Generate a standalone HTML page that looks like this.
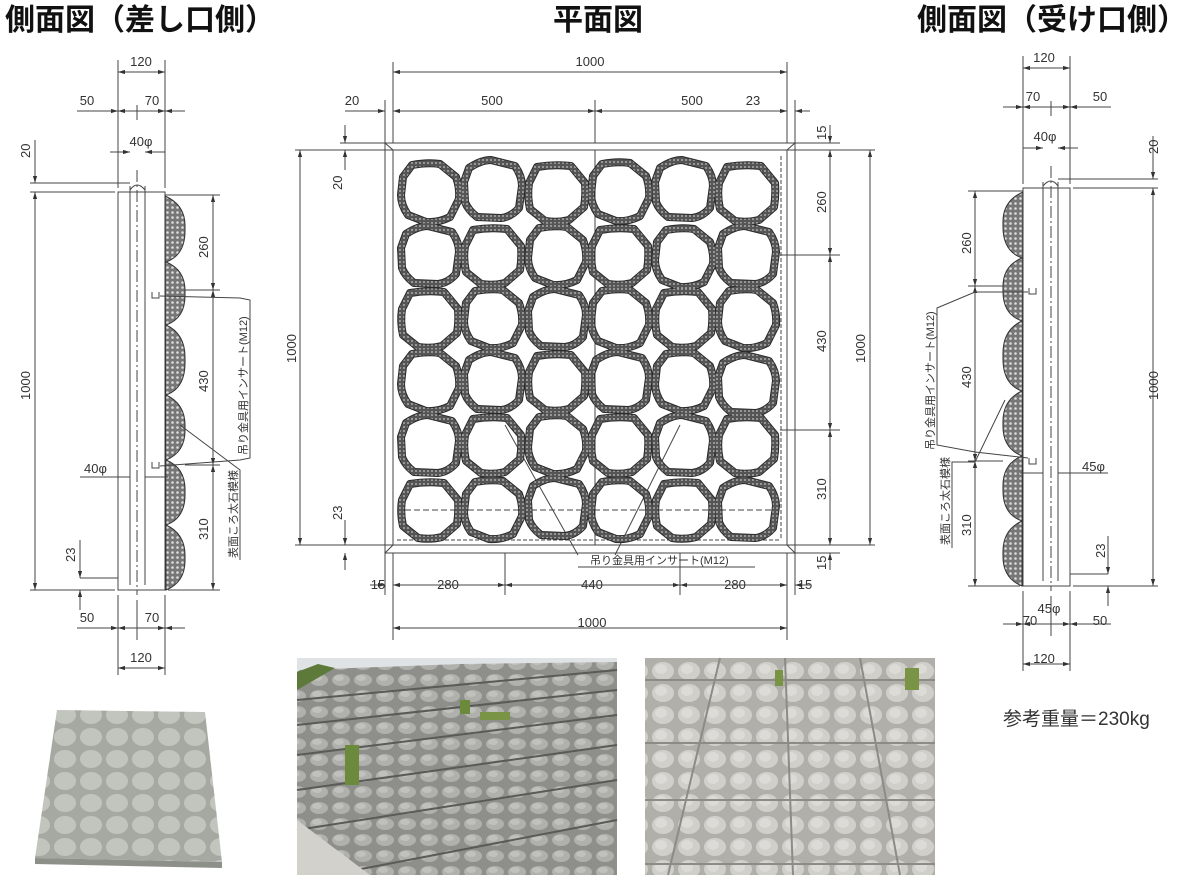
<!DOCTYPE html>
<html><head><meta charset="utf-8"><style>
html,body{margin:0;padding:0;background:#fff;width:1200px;height:875px;overflow:hidden}
svg{display:block}
text{font-family:"Liberation Sans","Noto Sans CJK JP",sans-serif;fill:#333}
.t{font-size:30px;font-weight:bold;fill:#111;font-family:"Liberation Sans","Noto Sans CJK JP",sans-serif}
.d{font-size:13px}
.s{font-size:11px}
</style></head><body>
<svg width="1200" height="875" viewBox="0 0 1200 875" xmlns="http://www.w3.org/2000/svg">
<defs>
<marker id="a" viewBox="0 0 10 10" refX="10" refY="5" markerWidth="7" markerHeight="7" orient="auto-start-reverse"><path d="M0,2 L10,5 L0,8z" fill="#333"/></marker>
<pattern id="peb" width="5" height="5" patternUnits="userSpaceOnUse"><rect width="5" height="5" fill="#777"/><circle cx="2.5" cy="2.5" r="1.3" fill="#ddd"/></pattern>
<pattern id="peb2" width="4" height="4" patternUnits="userSpaceOnUse"><rect width="4" height="4" fill="#555"/><circle cx="2" cy="2" r="1" fill="#aaa"/></pattern>
<path id="s1" d="M-18,-28 Q-2,-31 10,-29 L26,-16 Q30,-5 29,6 L20,24 Q8,30 -4,29 L-22,22 Q-29,12 -29,2 L-27,-16Z"/>
<path id="s2" d="M-24,-22 Q-12,-30 -2,-30 L22,-24 Q29,-14 29,-4 L26,18 Q18,27 8,28 L-16,27 Q-25,20 -28,12 L-29,-8Z"/>
<path id="s3" d="M-20,-26 Q-3,-29 14,-27 L28,-10 Q29,2 27,14 L12,27 Q0,30 -12,28 L-27,16 Q-30,3 -28,-10Z"/>
<pattern id="cob" width="22" height="16" patternUnits="userSpaceOnUse"><rect width="22" height="16" fill="#8e8e8a"/><ellipse cx="11" cy="8" rx="9" ry="6" fill="#b0b0ac"/><ellipse cx="9" cy="6" rx="5" ry="3" fill="#c0c0bc"/></pattern>
<pattern id="cob2" width="26" height="22" patternUnits="userSpaceOnUse"><rect width="26" height="22" fill="#b0afaa"/><ellipse cx="13" cy="11" rx="11" ry="9" fill="#d0cfca"/><ellipse cx="11" cy="9" rx="6" ry="5" fill="#dcdbd7"/></pattern>
<pattern id="cob3" width="26" height="22" patternUnits="userSpaceOnUse"><rect width="26" height="22" fill="#a6a9a1"/><ellipse cx="13" cy="11" rx="11" ry="9" fill="#c2c5bd"/></pattern>
<g id="stones">
<use href="#s1" x="430" y="193"/><use href="#s2" x="493" y="190"/><use href="#s3" x="557" y="193"/><use href="#s1" x="620" y="192"/><use href="#s2" x="684" y="190"/><use href="#s3" x="747" y="193"/>
<use href="#s2" x="430" y="256"/><use href="#s3" x="493" y="256"/><use href="#s1" x="557" y="256"/><use href="#s3" x="620" y="256"/><use href="#s1" x="684" y="258"/><use href="#s2" x="747" y="256"/>
<use href="#s3" x="430" y="319"/><use href="#s1" x="493" y="319"/><use href="#s2" x="557" y="319"/><use href="#s1" x="620" y="319"/><use href="#s3" x="684" y="319"/><use href="#s1" x="747" y="319"/>
<use href="#s1" x="430" y="382"/><use href="#s2" x="493" y="382"/><use href="#s3" x="557" y="382"/><use href="#s2" x="620" y="382"/><use href="#s1" x="684" y="382"/><use href="#s2" x="747" y="385"/>
<use href="#s2" x="430" y="445"/><use href="#s3" x="493" y="445"/><use href="#s1" x="557" y="445"/><use href="#s3" x="620" y="445"/><use href="#s2" x="684" y="445"/><use href="#s3" x="747" y="445"/>
<use href="#s3" x="430" y="510"/><use href="#s1" x="493" y="510"/><use href="#s2" x="557" y="508"/><use href="#s1" x="620" y="510"/><use href="#s3" x="684" y="510"/><use href="#s2" x="747" y="510"/>
</g>
</defs>

<text class="t" x="5" y="30">側面図（差し口側）</text>
<text class="t" x="553" y="30">平面図</text>
<text class="t" x="917" y="30">側面図（受け口側）</text>

<g id="sv" stroke="#444" stroke-width="1" fill="none">
<rect x="118" y="192" width="47" height="398"/>
<line x1="130" y1="186" x2="130" y2="585"/><line x1="145" y1="186" x2="145" y2="585"/>
<path d="M130,190 Q137,180 145,190"/>
<line x1="137" y1="170" x2="137" y2="595" stroke-dasharray="12,3,2,3"/>
<path d="M165,196 Q186,205 185,228 Q186,255 166,262 Q186,270 185,293 Q186,318 166,325 Q186,334 185,360 Q186,388 166,395 Q186,404 185,428 Q186,452 166,460 Q186,468 185,492 Q186,518 166,525 Q186,534 185,558 Q186,582 166,590Z" fill="url(#peb)" stroke="#333"/>
<path d="M152,292 v6 h7 v-6 M152,462 v6 h7 v-6"/>
<line x1="118" y1="60" x2="118" y2="188"/><line x1="165" y1="60" x2="165" y2="188"/>
<line x1="137" y1="105" x2="137" y2="120"/>
<line x1="118" y1="595" x2="118" y2="675"/><line x1="165" y1="595" x2="165" y2="675"/><line x1="137" y1="600" x2="137" y2="640"/>
<line x1="30" y1="183" x2="130" y2="183"/><line x1="30" y1="192" x2="115" y2="192"/><line x1="30" y1="590" x2="115" y2="590"/>
<line x1="165" y1="195" x2="220" y2="195"/><line x1="185" y1="290" x2="220" y2="290"/><line x1="185" y1="465" x2="220" y2="465"/><line x1="168" y1="590" x2="220" y2="590"/>
<line x1="80" y1="578" x2="118" y2="578"/>
<line x1="118" y1="72" x2="165" y2="72" marker-start="url(#a)" marker-end="url(#a)"/>
<line x1="77" y1="111" x2="118" y2="111" marker-end="url(#a)"/><line x1="137" y1="111" x2="118" y2="111" marker-end="url(#a)"/>
<line x1="137" y1="111" x2="165" y2="111" marker-end="url(#a)"/><line x1="185" y1="111" x2="165" y2="111" marker-end="url(#a)"/>
<line x1="110" y1="152" x2="130" y2="152" marker-end="url(#a)"/><line x1="165" y1="152" x2="145" y2="152" marker-end="url(#a)"/>
<line x1="35" y1="140" x2="35" y2="183" marker-end="url(#a)"/><line x1="35" y1="192" x2="35" y2="590" marker-start="url(#a)" marker-end="url(#a)"/>
<line x1="213" y1="195" x2="213" y2="290" marker-start="url(#a)" marker-end="url(#a)"/>
<line x1="213" y1="290" x2="213" y2="465" marker-start="url(#a)" marker-end="url(#a)"/>
<line x1="213" y1="465" x2="213" y2="590" marker-start="url(#a)" marker-end="url(#a)"/>
<line x1="80" y1="540" x2="80" y2="578" marker-end="url(#a)"/><line x1="80" y1="610" x2="80" y2="590" marker-end="url(#a)"/>
<line x1="77" y1="628" x2="118" y2="628" marker-end="url(#a)"/><line x1="137" y1="628" x2="118" y2="628" marker-end="url(#a)"/>
<line x1="137" y1="628" x2="165" y2="628" marker-end="url(#a)"/><line x1="185" y1="628" x2="165" y2="628" marker-end="url(#a)"/>
<line x1="118" y1="668" x2="165" y2="668" marker-start="url(#a)" marker-end="url(#a)"/>
<line x1="80" y1="477" x2="130" y2="477"/><line x1="145" y1="477" x2="168" y2="477"/>
</g>
<g stroke="#444" fill="none">
<polyline points="160,296 240,298 250,300 250,458 240,460 160,466"/>
<polyline points="180,425 240,470 240,560"/>
</g>
<text class="d" x="141" y="66" text-anchor="middle">120</text>
<text class="d" x="87" y="105" text-anchor="middle">50</text>
<text class="d" x="152" y="105" text-anchor="middle">70</text>
<text class="d" x="141" y="146" text-anchor="middle">40φ</text>
<text class="d" transform="translate(30,158) rotate(-90)">20</text>
<text class="d" transform="translate(30,400) rotate(-90)">1000</text>
<text class="d" transform="translate(208,258) rotate(-90)">260</text>
<text class="d" transform="translate(208,392) rotate(-90)">430</text>
<text class="d" transform="translate(208,540) rotate(-90)">310</text>
<text class="d" x="84" y="473">40φ</text>
<text class="d" transform="translate(75,562) rotate(-90)">23</text>
<text class="d" x="87" y="622" text-anchor="middle">50</text>
<text class="d" x="152" y="622" text-anchor="middle">70</text>
<text class="d" x="141" y="662" text-anchor="middle">120</text>
<text class="s" transform="translate(247,455) rotate(-90)">吊り金具用インサート(M12)</text>
<text class="s" transform="translate(237,558) rotate(-90)">表面ころ太石模様</text>

<use href="#sv" transform="matrix(-1,0,0,1,1188,-4)"/>
<g stroke="#444" fill="none">
<polyline points="1028,292 975,292 937,308 937,445 975,452 1028,458"/>
<polyline points="1005,400 975,462 952,462 952,548"/>
</g>
<text class="d" x="1044" y="62" text-anchor="middle">120</text>
<text class="d" x="1033" y="101" text-anchor="middle">70</text>
<text class="d" x="1100" y="101" text-anchor="middle">50</text>
<text class="d" x="1045" y="141" text-anchor="middle">40φ</text>
<text class="d" transform="translate(1158,154) rotate(-90)">20</text>
<text class="d" transform="translate(1158,400) rotate(-90)">1000</text>
<text class="d" transform="translate(971,254) rotate(-90)">260</text>
<text class="d" transform="translate(971,388) rotate(-90)">430</text>
<text class="d" transform="translate(971,536) rotate(-90)">310</text>
<text class="d" x="1082" y="471">45φ</text>
<text class="d" transform="translate(1105,558) rotate(-90)">23</text>
<text class="d" x="1049" y="613" text-anchor="middle">45φ</text>
<text class="d" x="1030" y="625" text-anchor="middle">70</text>
<text class="d" x="1100" y="625" text-anchor="middle">50</text>
<text class="d" x="1044" y="663" text-anchor="middle">120</text>
<text class="s" transform="translate(934,450) rotate(-90)">吊り金具用インサート(M12)</text>
<text class="s" transform="translate(949,545) rotate(-90)">表面ころ太石模様</text>

<!-- PLAN VIEW -->
<g stroke="#444" stroke-width="1" fill="none">
<rect x="385" y="143" width="410" height="410"/>
<rect x="393" y="150" width="394" height="395"/>
<path d="M385,143 L393,150 M795,143 L787,150 M385,553 L393,545 M795,553 L787,545"/>
<line x1="781" y1="156" x2="781" y2="540" stroke-dasharray="4,2"/>
<line x1="397" y1="540" x2="781" y2="540" stroke-dasharray="4,2"/>
<line x1="595" y1="150" x2="595" y2="545"/>
<line x1="405" y1="510" x2="775" y2="510" stroke-dasharray="6,3"/>
<line x1="393" y1="62" x2="393" y2="143"/><line x1="787" y1="62" x2="787" y2="143"/>
<line x1="385" y1="100" x2="385" y2="143"/><line x1="795" y1="100" x2="795" y2="143"/><line x1="595" y1="100" x2="595" y2="143"/>
<line x1="393" y1="553" x2="393" y2="640"/><line x1="787" y1="553" x2="787" y2="640"/>
<line x1="385" y1="553" x2="385" y2="595"/><line x1="795" y1="553" x2="795" y2="595"/><line x1="505" y1="553" x2="505" y2="595"/><line x1="680" y1="553" x2="680" y2="595"/>
<line x1="295" y1="150" x2="393" y2="150"/><line x1="295" y1="545" x2="393" y2="545"/><line x1="340" y1="143" x2="385" y2="143"/>
<line x1="795" y1="143" x2="840" y2="143"/><line x1="787" y1="150" x2="875" y2="150"/><line x1="787" y1="545" x2="875" y2="545"/><line x1="795" y1="553" x2="840" y2="553"/>
<line x1="780" y1="255" x2="840" y2="255"/><line x1="780" y1="430" x2="840" y2="430"/>
<line x1="393" y1="72" x2="787" y2="72" marker-start="url(#a)" marker-end="url(#a)"/>
<line x1="345" y1="111" x2="385" y2="111" marker-end="url(#a)"/><line x1="393" y1="111" x2="595" y2="111" marker-start="url(#a)" marker-end="url(#a)"/>
<line x1="595" y1="111" x2="787" y2="111" marker-start="url(#a)" marker-end="url(#a)"/><line x1="810" y1="111" x2="795" y2="111" marker-end="url(#a)"/>
<line x1="300" y1="150" x2="300" y2="545" marker-start="url(#a)" marker-end="url(#a)"/>
<line x1="870" y1="150" x2="870" y2="545" marker-start="url(#a)" marker-end="url(#a)"/>
<line x1="345" y1="125" x2="345" y2="143" marker-end="url(#a)"/><line x1="345" y1="170" x2="345" y2="150" marker-end="url(#a)"/>
<line x1="345" y1="520" x2="345" y2="545" marker-end="url(#a)"/><line x1="345" y1="570" x2="345" y2="553" marker-end="url(#a)"/>
<line x1="830" y1="125" x2="830" y2="143" marker-end="url(#a)"/>
<line x1="830" y1="150" x2="830" y2="255" marker-start="url(#a)" marker-end="url(#a)"/>
<line x1="830" y1="255" x2="830" y2="430" marker-start="url(#a)" marker-end="url(#a)"/>
<line x1="830" y1="430" x2="830" y2="545" marker-start="url(#a)" marker-end="url(#a)"/>
<line x1="830" y1="570" x2="830" y2="553" marker-end="url(#a)"/>
<line x1="370" y1="585" x2="385" y2="585" marker-end="url(#a)"/>
<line x1="393" y1="585" x2="505" y2="585" marker-start="url(#a)" marker-end="url(#a)"/>
<line x1="505" y1="585" x2="680" y2="585" marker-start="url(#a)" marker-end="url(#a)"/>
<line x1="680" y1="585" x2="787" y2="585" marker-start="url(#a)" marker-end="url(#a)"/>
<line x1="810" y1="585" x2="795" y2="585" marker-end="url(#a)"/>
<line x1="393" y1="628" x2="787" y2="628" marker-start="url(#a)" marker-end="url(#a)"/>
<line x1="578" y1="555" x2="505" y2="425"/><line x1="615" y1="555" x2="680" y2="425"/>
<line x1="578" y1="567" x2="755" y2="567"/>
</g>
<g fill="none" stroke="#2a2a2a" stroke-width="8" stroke-linejoin="round"><use href="#stones"/></g>
<g fill="none" stroke="url(#peb2)" stroke-width="6" stroke-linejoin="round"><use href="#stones"/></g>
<text class="d" x="590" y="66" text-anchor="middle">1000</text>
<text class="d" x="352" y="105" text-anchor="middle">20</text>
<text class="d" x="492" y="105" text-anchor="middle">500</text>
<text class="d" x="692" y="105" text-anchor="middle">500</text>
<text class="d" x="753" y="105" text-anchor="middle">23</text>
<text class="d" transform="translate(296,363) rotate(-90)">1000</text>
<text class="d" transform="translate(865,363) rotate(-90)">1000</text>
<text class="d" transform="translate(342,190) rotate(-90)">20</text>
<text class="d" transform="translate(342,520) rotate(-90)">23</text>
<text class="d" transform="translate(826,140) rotate(-90)">15</text>
<text class="d" transform="translate(826,213) rotate(-90)">260</text>
<text class="d" transform="translate(826,352) rotate(-90)">430</text>
<text class="d" transform="translate(826,500) rotate(-90)">310</text>
<text class="d" transform="translate(826,570) rotate(-90)">15</text>
<text class="d" x="378" y="589" text-anchor="middle">15</text>
<text class="d" x="448" y="589" text-anchor="middle">280</text>
<text class="d" x="592" y="589" text-anchor="middle">440</text>
<text class="d" x="735" y="589" text-anchor="middle">280</text>
<text class="d" x="805" y="589" text-anchor="middle">15</text>
<text class="d" x="592" y="627" text-anchor="middle">1000</text>
<text class="s" x="590" y="564">吊り金具用インサート(M12)</text>

<text x="1003" y="725" style="font-size:19px;fill:#333">参考重量＝230kg</text>

<polygon points="57,710 205,712 222,862 35,858" fill="url(#cob3)"/>
<polygon points="35,858 222,862 222,868 35,864" fill="#8d9088"/>

<rect x="297" y="658" width="320" height="217" fill="url(#cob)"/>
<polygon points="297,658 617,658 617,662 460,664 300,670 297,672" fill="#dfe3e6"/>
<polygon points="297,672 318,664 335,668 297,690" fill="#5d7a3a"/>
<g stroke="#5a5a56" stroke-width="2">
<line x1="297" y1="700" x2="617" y2="670"/><line x1="297" y1="725" x2="617" y2="690"/><line x1="297" y1="755" x2="617" y2="715"/><line x1="297" y1="790" x2="617" y2="745"/><line x1="297" y1="830" x2="617" y2="780"/><line x1="330" y1="875" x2="617" y2="820"/>
</g>
<polygon points="297,820 370,875 297,875" fill="#d3d1cb"/>
<rect x="345" y="745" width="14" height="40" fill="#6b8a3c"/>
<rect x="480" y="712" width="30" height="8" fill="#7a9446"/>
<rect x="460" y="700" width="10" height="14" fill="#6b8a3c"/>

<rect x="645" y="658" width="290" height="217" fill="url(#cob2)"/>
<g stroke="#8c8b86" stroke-width="2">
<line x1="645" y1="680" x2="935" y2="680"/><line x1="645" y1="743" x2="935" y2="743"/><line x1="645" y1="800" x2="935" y2="800"/><line x1="645" y1="864" x2="935" y2="864"/>
<line x1="720" y1="658" x2="668" y2="875"/><line x1="785" y1="658" x2="793" y2="875"/><line x1="860" y1="658" x2="900" y2="875"/>
</g>
<rect x="905" y="668" width="14" height="22" fill="#7a9446"/>
<rect x="775" y="670" width="8" height="16" fill="#7a9446"/>
</svg>
</body></html>
